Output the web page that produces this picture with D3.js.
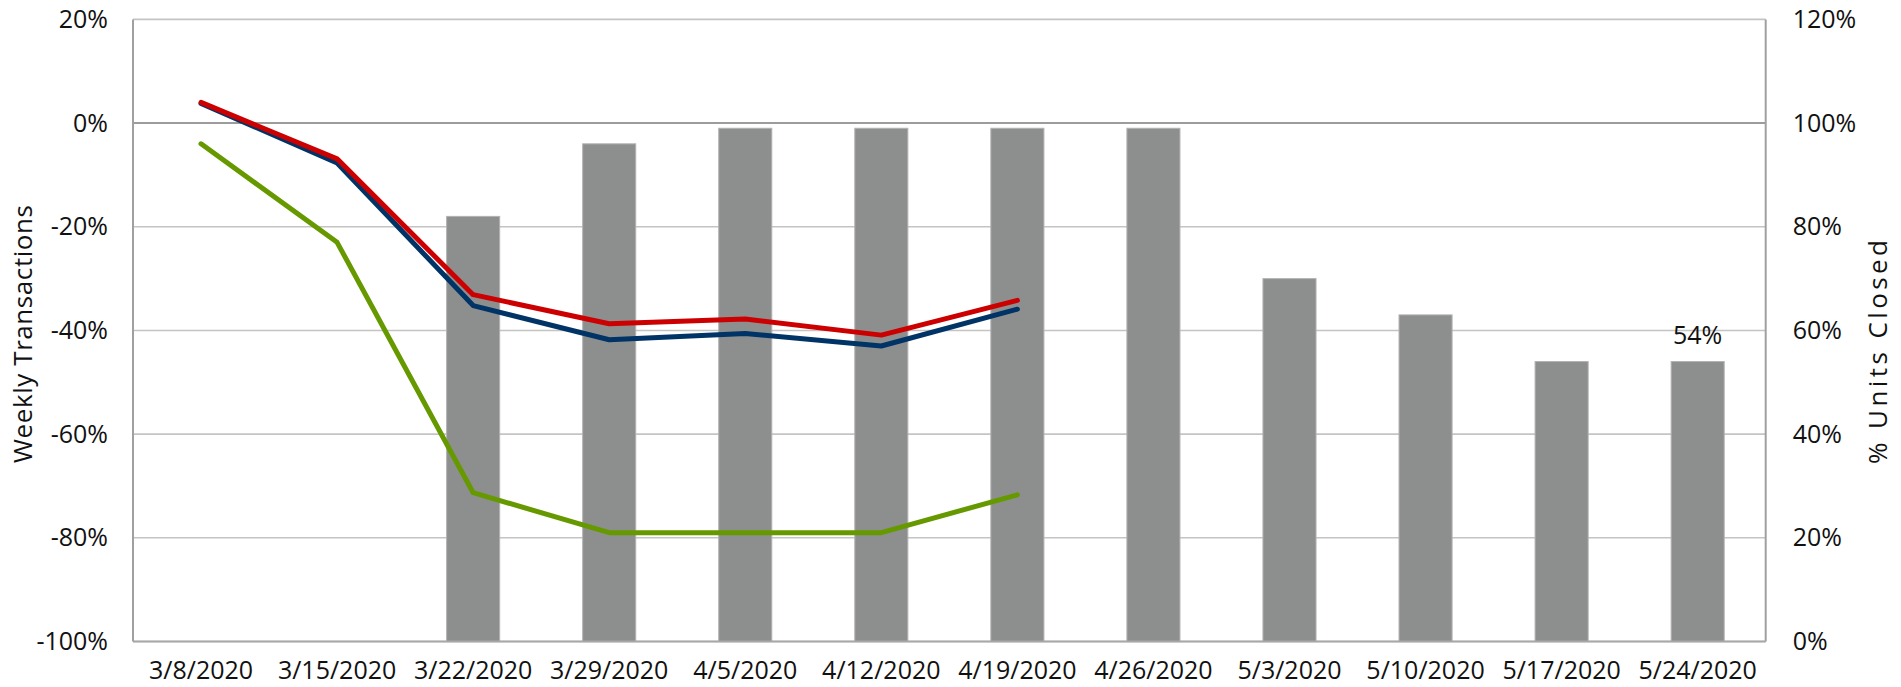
<!DOCTYPE html>
<html>
<head>
<meta charset="utf-8">
<script src="https://cdn.jsdelivr.net/npm/d3@7"></script>
<style>
  html, body { margin: 0; padding: 0; background: #ffffff; }
  svg { display: block; }
  text { font-family: "Open Sans", "DejaVu Sans", sans-serif; fill: #111111; }
</style>
</head>
<body>
<svg id="chart" width="1901" height="687"></svg>
<script>
// Week-ending dates on the category axis
const weeks = ["3/8/2020", "3/15/2020", "3/22/2020", "3/29/2020", "4/5/2020", "4/12/2020",
               "4/19/2020", "4/26/2020", "5/3/2020", "5/10/2020", "5/17/2020", "5/24/2020"];

// Share of units closed (right axis, bars)
const unitsClosed = [null, null, 0.82, 0.96, 0.99, 0.99, 0.99, 0.99, 0.70, 0.63, 0.54, 0.54];

// Weekly transaction change (left axis, lines)
const seriesRed   = [0.040, -0.069, -0.331, -0.387, -0.378, -0.409, -0.342];
const seriesNavy  = [0.038, -0.077, -0.352, -0.418, -0.406, -0.430, -0.359];
const seriesGreen = [-0.040, -0.230, -0.713, -0.790, -0.790, -0.790, -0.717];

// Axis ticks
const leftTicks  = [-1.0, -0.8, -0.6, -0.4, -0.2, 0.0, 0.2];
const rightTicks = [0.0, 0.2, 0.4, 0.6, 0.8, 1.0, 1.2];

// Value label shown above the last bar
const labelIndex = 11;

const svg = d3.select("#chart");
const plot = { left: 133, right: 1765.7, top: 19.4, bottom: 641.5 };
const fontSize = 25;

const x = d3.scaleBand()
  .domain(weeks)
  .range([plot.left, plot.right])
  .paddingInner(0.61)
  .paddingOuter(0.305);

const yL = d3.scaleLinear().domain([-1, 0.2]).range([plot.bottom, plot.top]);
const yR = d3.scaleLinear().domain([0, 1.2]).range([plot.bottom, plot.top]);

const pct = d3.formatLocale({ decimal: ".", thousands: ",", grouping: [3], currency: ["$", ""], minus: "-" }).format(".0%");

// Horizontal gridlines
svg.append("g")
  .selectAll("line")
  .data(leftTicks)
  .join("line")
  .attr("x1", plot.left).attr("x2", plot.right)
  .attr("y1", d => yL(d)).attr("y2", d => yL(d))
  .attr("stroke", d => d === 0 ? "#9c9c9c" : "#c4c4c4")
  .attr("stroke-width", d => d === 0 ? 2 : 1.6);

// Bars: % units closed
const cx = d => x(d) + x.bandwidth() / 2;
svg.append("g")
  .selectAll("rect")
  .data(weeks.map((w, i) => ({ w, v: unitsClosed[i] })).filter(d => d.v != null))
  .join("rect")
  .attr("x", d => x(d.w))
  .attr("width", x.bandwidth())
  .attr("y", d => yR(d.v))
  .attr("height", d => yR(0) - yR(d.v))
  .attr("fill", "#8d8f8e")
  .attr("stroke", "#b2b2b2")
  .attr("stroke-width", 1);

// Axis frame: left, right and bottom
svg.append("line").attr("x1", plot.left).attr("x2", plot.left)
  .attr("y1", plot.top).attr("y2", plot.bottom).attr("stroke", "#a0a0a0").attr("stroke-width", 2);
svg.append("line").attr("x1", plot.right).attr("x2", plot.right)
  .attr("y1", plot.top).attr("y2", plot.bottom).attr("stroke", "#a0a0a0").attr("stroke-width", 2);
svg.append("line").attr("x1", plot.left).attr("x2", plot.right)
  .attr("y1", plot.bottom).attr("y2", plot.bottom).attr("stroke", "#a8a8a8").attr("stroke-width", 2);

// Lines: weekly transactions
const line = d3.line()
  .x((d, i) => cx(weeks[i]))
  .y(d => yL(d));

const lines = [
  { data: seriesGreen, color: "#669900" },
  { data: seriesNavy,  color: "#003366" },
  { data: seriesRed,   color: "#cc0000" }
];
svg.append("g")
  .selectAll("path")
  .data(lines)
  .join("path")
  .attr("d", d => line(d.data))
  .attr("fill", "none")
  .attr("stroke", d => d.color)
  .attr("stroke-width", 5)
  .attr("stroke-linecap", "round")
  .attr("stroke-linejoin", "round");

// Left axis labels
const leftAxis = d3.axisLeft(yL).tickValues(leftTicks).tickFormat(pct).tickSize(0).tickPadding(25);
const gL = svg.append("g").attr("transform", `translate(${plot.left},0)`).call(leftAxis);
gL.select(".domain").remove();
gL.selectAll("text").attr("font-size", fontSize).attr("fill", "#111");

// Right axis labels
const rightAxis = d3.axisRight(yR).tickValues(rightTicks).tickFormat(pct).tickSize(0).tickPadding(27);
const gR = svg.append("g").attr("transform", `translate(${plot.right},0)`).call(rightAxis);
gR.select(".domain").remove();
gR.selectAll("text").attr("font-size", fontSize).attr("fill", "#111");

// Category labels
const bottomAxis = d3.axisBottom(x).tickSize(0).tickPadding(20);
const gB = svg.append("g").attr("transform", `translate(0,${plot.bottom})`).call(bottomAxis);
gB.select(".domain").remove();
gB.selectAll("text").attr("font-size", fontSize).attr("fill", "#111");

// Axis titles
svg.append("text")
  .attr("transform", "translate(22,334) rotate(-90)")
  .attr("text-anchor", "middle")
  .attr("dominant-baseline", "central")
  .attr("font-size", 26)
  .attr("textLength", 258)
  .attr("lengthAdjust", "spacing")
  .text("Weekly Transactions");

svg.append("text")
  .attr("transform", "translate(1877,352) rotate(-90)")
  .attr("text-anchor", "middle")
  .attr("dominant-baseline", "central")
  .attr("font-size", 26)
  .attr("textLength", 224)
  .attr("lengthAdjust", "spacing")
  .text("% Units Closed");

// Value label on the last bar
svg.append("text")
  .attr("x", cx(weeks[labelIndex]))
  .attr("y", yR(unitsClosed[labelIndex]) - 18)
  .attr("text-anchor", "middle")
  .attr("font-size", fontSize)
  .text(pct(unitsClosed[labelIndex]));
</script>
</body>
</html>
